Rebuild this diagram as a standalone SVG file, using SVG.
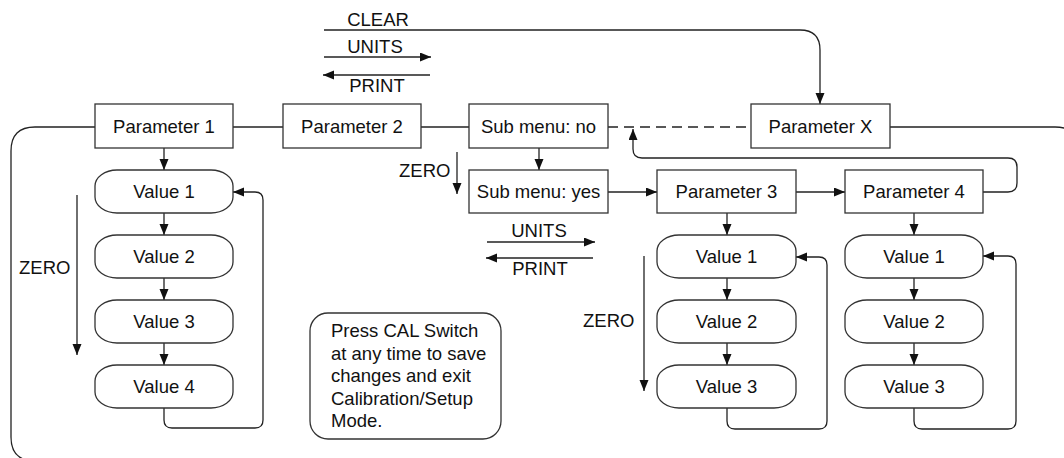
<svg xmlns="http://www.w3.org/2000/svg" width="1064" height="458" viewBox="0 0 1064 458">
<style>
  .box{fill:#fff;stroke:#333;stroke-width:1.3}
  .val{fill:#fff;stroke:#333;stroke-width:1.3}
  .t{font-family:"Liberation Sans",Arial,sans-serif;font-size:18.5px;fill:#111}
  .c{text-anchor:middle}
  .ln{fill:none;stroke:#222;stroke-width:1.3}
  .arr{fill:none;stroke:#222;stroke-width:1.3;marker-end:url(#ah)}
  .dash{fill:none;stroke:#222;stroke-width:1.3;stroke-dasharray:10 6}
</style>
<defs>
  <marker id="ah" markerUnits="userSpaceOnUse" markerWidth="12" markerHeight="10" refX="11" refY="4.5" orient="auto">
    <path d="M0,0 L11,4.5 L0,9 z" fill="#111"/>
  </marker>
</defs>
<rect width="1064" height="458" fill="#fff"/>

<g id="connectors">
  <path class="ln" d="M95,127 H35 Q11,127 11,151 V437 Q11,461 35,461"/>
  <path class="ln" d="M890,127 H1055 Q1079,127 1079,151"/>
  <path class="ln" d="M233,127 H283"/>
  <path class="ln" d="M421,127 H469"/>
  <path class="dash" d="M608,127 H751"/>
  <path class="arr" d="M324,30 H800 Q820,30 820,50 V104"/>
  <path class="arr" d="M324,57 H431"/>
  <path class="arr" d="M430,75 H323"/>
  <path class="arr" d="M487,242 H595"/>
  <path class="arr" d="M593,258 H486"/>
  <path class="arr" d="M77,195 V355"/>
  <path class="arr" d="M457,152 V194"/>
  <path class="arr" d="M644,256 V391"/>
  <path class="arr" d="M539,148 V170"/>
  <path class="arr" d="M608,192 H657"/>
  <path class="arr" d="M796,192 H845"/>
  <path class="arr" d="M983,192 H1008 Q1017,192 1017,183 V167 Q1017,158 1008,158 H642 Q633,158 633,149 V129"/>
  <path class="arr" d="M164,148 V170"/>
  <path class="arr" d="M164,213 V235"/>
  <path class="arr" d="M164,278 V300"/>
  <path class="arr" d="M164,343 V365"/>
  <path class="arr" d="M164,408 V420 Q164,428 172,428 H255 Q263,428 263,420 V200 Q263,192 255,192 H233"/>
  <path class="arr" d="M727,213 V235"/>
  <path class="arr" d="M727,278 V300"/>
  <path class="arr" d="M727,343 V365"/>
  <path class="arr" d="M727,408 V421 Q727,429 735,429 H819 Q827,429 827,421 V265 Q827,257 819,257 H796"/>
  <path class="arr" d="M914,213 V235"/>
  <path class="arr" d="M914,278 V300"/>
  <path class="arr" d="M914,343 V365"/>
  <path class="arr" d="M914,408 V421 Q914,429 922,429 H1008 Q1016,429 1016,421 V264 Q1016,256 1008,256 H983"/>
</g>

<g id="labels">
  <text class="t c" x="378" y="26">CLEAR</text>
  <text class="t c" x="375" y="53">UNITS</text>
  <text class="t c" x="377" y="92">PRINT</text>
  <text class="t c" x="539" y="237">UNITS</text>
  <text class="t c" x="540" y="275">PRINT</text>
  <text class="t" x="19" y="274">ZERO</text>
  <text class="t" x="399" y="177">ZERO</text>
  <text class="t" x="583" y="327">ZERO</text>
</g>

<g id="param1"><rect class="box" x="95" y="104" width="138" height="44"/><text class="t c" x="164" y="133">Parameter 1</text></g>
<g id="param2"><rect class="box" x="283" y="104" width="138" height="44"/><text class="t c" x="352" y="133">Parameter 2</text></g>
<g id="submenu-no"><rect class="box" x="469" y="104" width="139" height="44"/><text class="t c" x="538.5" y="133">Sub menu: no</text></g>
<g id="paramX"><rect class="box" x="751" y="104" width="139" height="44"/><text class="t c" x="820.5" y="133">Parameter X</text></g>
<g id="submenu-yes"><rect class="box" x="469" y="170" width="139" height="43"/><text class="t c" x="538.5" y="198">Sub menu: yes</text></g>
<g id="param3"><rect class="box" x="657" y="170" width="139" height="43"/><text class="t c" x="726.5" y="198">Parameter 3</text></g>
<g id="param4"><rect class="box" x="845" y="170" width="138" height="43"/><text class="t c" x="914" y="198">Parameter 4</text></g>

<g id="c1-v1"><rect class="val" x="95" y="170" width="138" height="43" rx="22" ry="16"/><text class="t c" x="164" y="198">Value 1</text></g>
<g id="c1-v2"><rect class="val" x="95" y="235" width="138" height="43" rx="22" ry="16"/><text class="t c" x="164" y="263">Value 2</text></g>
<g id="c1-v3"><rect class="val" x="95" y="300" width="138" height="43" rx="22" ry="16"/><text class="t c" x="164" y="328">Value 3</text></g>
<g id="c1-v4"><rect class="val" x="95" y="365" width="138" height="43" rx="22" ry="16"/><text class="t c" x="164" y="393">Value 4</text></g>

<g id="c3-v1"><rect class="val" x="657" y="235" width="139" height="43" rx="22" ry="16"/><text class="t c" x="726.5" y="263">Value 1</text></g>
<g id="c3-v2"><rect class="val" x="657" y="300" width="139" height="43" rx="22" ry="16"/><text class="t c" x="726.5" y="328">Value 2</text></g>
<g id="c3-v3"><rect class="val" x="657" y="365" width="139" height="43" rx="22" ry="16"/><text class="t c" x="726.5" y="393">Value 3</text></g>

<g id="c4-v1"><rect class="val" x="845" y="235" width="138" height="43" rx="22" ry="16"/><text class="t c" x="914" y="263">Value 1</text></g>
<g id="c4-v2"><rect class="val" x="845" y="300" width="138" height="43" rx="22" ry="16"/><text class="t c" x="914" y="328">Value 2</text></g>
<g id="c4-v3"><rect class="val" x="845" y="365" width="138" height="43" rx="22" ry="16"/><text class="t c" x="914" y="393">Value 3</text></g>

<g id="note">
  <rect class="box" x="310" y="313" width="191" height="126" rx="18" ry="18"/>
  <text class="t" x="331" y="337">Press CAL Switch</text>
  <text class="t" x="331" y="359.5">at any time to save</text>
  <text class="t" x="331" y="382">changes and exit</text>
  <text class="t" x="331" y="404.5">Calibration/Setup</text>
  <text class="t" x="331" y="427">Mode.</text>
</g>
</svg>
